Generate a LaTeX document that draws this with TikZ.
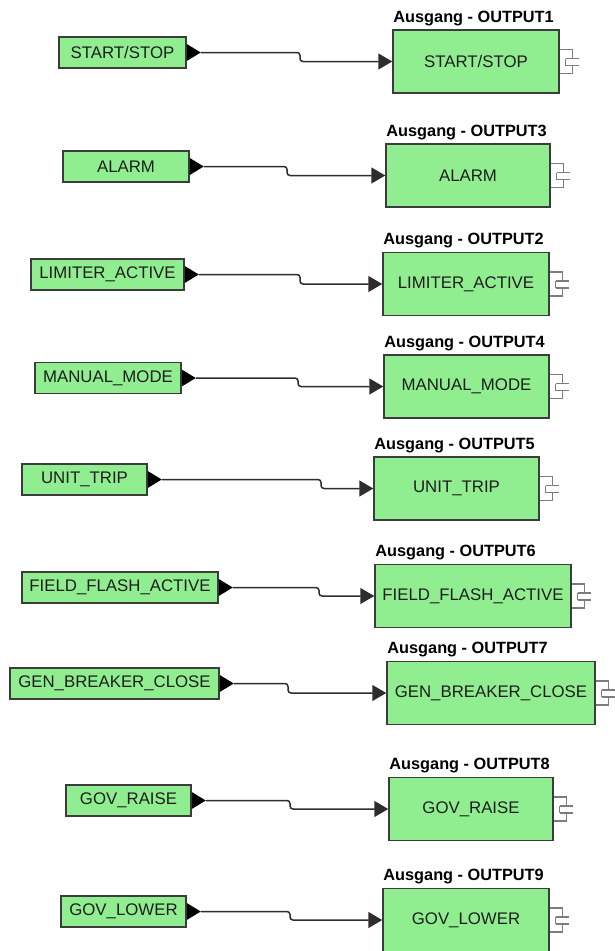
\documentclass[tikz,border=0pt]{standalone}
\usepackage{fontspec}
\setmainfont{Liberation Sans}
\usetikzlibrary{arrows.meta,calc}
\definecolor{boxgreen}{RGB}{144,238,144}
\definecolor{boxline}{RGB}{60,60,60}
\definecolor{wirec}{RGB}{45,45,45}
\definecolor{plugc}{RGB}{125,125,125}
\definecolor{txt}{RGB}{30,30,30}
\tikzset{
  inbox/.style={draw=boxline, fill=boxgreen, line width=1.5pt, minimum height=31pt,
    inner sep=0pt, font=\fontsize{16.8}{18}\selectfont, text=txt},
  outbox/.style={draw=boxline, fill=boxgreen, line width=1.5pt, minimum height=63pt,
    inner sep=0pt, font=\fontsize{16.8}{18}\selectfont, text=txt},
  ttl/.style={anchor=base west, inner sep=0pt, font=\bfseries\fontsize{16.3}{18}\selectfont},
  wire/.style={draw=wirec, line width=1.5pt, rounded corners=3pt,
    -{Triangle[length=14pt,width=16pt]}},
  plugline/.style={draw=plugc, line width=1.3pt},
}
\newcommand\inport[2]{%
  \fill[black] ($(#1.east)+(0,-8.5)$) -- ($(#1.east)+(14,0)$) -- ($(#1.east)+(0,8.5)$) -- cycle;
  \coordinate (#2) at ($(#1.east)+(14,0)$);}
\newcommand\plugicon[1]{%
  \draw[plugline] ($(#1.east)+(0,-12)$) -- ++(13,0) -- ++(0,9);
  \draw[plugline] ($(#1.east)+(6,-3)$) -- ++(13,0);
  \draw[plugline] ($(#1.east)+(6,4)$) -- ++(13,0);
  \draw[plugline] ($(#1.east)+(6,-3)$) -- ++(0,7);
  \draw[plugline] ($(#1.east)+(13,4)$) -- ++(0,8) -- ++(-13,0);}
\begin{document}
\begin{tikzpicture}[x=1pt,y=-1pt]
\useasboundingbox[fill=white] (0,0) rectangle (615,951);
% Row 1
\node[inbox, minimum width=127pt] (in1) at (122.5,52.5) {START/STOP};
\node[outbox, minimum width=166pt] (out1) at (476,61.5) {START/STOP};
\node[ttl] (t1) at ($(out1.north west)+(1,-7)$) {Ausgang - OUTPUT1};
\inport{in1}{p1}\plugicon{out1}
\draw[wire] (p1) -- (300,52.5) |- (out1.west);
% Row 2
\node[inbox, minimum width=126pt] (in2) at (126,166.5) {ALARM};
\node[outbox, minimum width=164pt] (out2) at (468,175.5) {ALARM};
\node[ttl] (t2) at ($(out2.north west)+(1,-7)$) {Ausgang - OUTPUT3};
\inport{in2}{p2}\plugicon{out2}
\draw[wire] (p2) -- (287,166.5) |- (out2.west);
% Row 3
\node[inbox, minimum width=153pt] (in3) at (107.5,274.5) {LIMITER\_ACTIVE};
\node[outbox, minimum width=166pt] (out3) at (466,284) {LIMITER\_ACTIVE};
\node[ttl] (t3) at ($(out3.north west)+(1,-7)$) {Ausgang - OUTPUT2};
\inport{in3}{p3}\plugicon{out3}
\draw[wire] (p3) -- (300,274.5) |- (out3.west);
% Row 4
\node[inbox, minimum width=146pt] (in4) at (108,378) {MANUAL\_MODE};
\node[outbox, minimum width=165pt] (out4) at (466.5,386.5) {MANUAL\_MODE};
\node[ttl] (t4) at ($(out4.north west)+(1,-7)$) {Ausgang - OUTPUT4};
\inport{in4}{p4}\plugicon{out4}
\draw[wire] (p4) -- (298,378) |- (out4.west);
% Row 5
\node[inbox, minimum width=125pt] (in5) at (84.5,479.5) {UNIT\_TRIP};
\node[outbox, minimum width=165pt] (out5) at (456.5,488.5) {UNIT\_TRIP};
\node[ttl] (t5) at ($(out5.north west)+(1,-7)$) {Ausgang - OUTPUT5};
\inport{in5}{p5}\plugicon{out5}
\draw[wire] (p5) -- (321,479.5) |- (out5.west);
% Row 6
\node[inbox, minimum width=196pt] (in6) at (120,587.5) {FIELD\_FLASH\_ACTIVE};
\node[outbox, minimum width=196pt] (out6) at (473,596) {FIELD\_FLASH\_ACTIVE};
\node[ttl] (t6) at ($(out6.north west)+(1,-7)$) {Ausgang - OUTPUT6};
\inport{in6}{p6}\plugicon{out6}
\draw[wire] (p6) -- (319,587.5) |- (out6.west);
% Row 7
\node[inbox, minimum width=209pt] (in7) at (114.5,683.5) {GEN\_BREAKER\_CLOSE};
\node[outbox, minimum width=208pt] (out7) at (491,693) {GEN\_BREAKER\_CLOSE};
\node[ttl] (t7) at ($(out7.north west)+(1,-7)$) {Ausgang - OUTPUT7};
\inport{in7}{p7}\plugicon{out7}
\draw[wire] (p7) -- (288,683.5) |- (out7.west);
% Row 8
\node[inbox, minimum width=125pt] (in8) at (128.5,800.5) {GOV\_RAISE};
\node[outbox, minimum width=164pt] (out8) at (471,809) {GOV\_RAISE};
\node[ttl] (t8) at ($(out8.north west)+(1,-7)$) {Ausgang - OUTPUT8};
\inport{in8}{p8}\plugicon{out8}
\draw[wire] (p8) -- (290,800.5) |- (out8.west);
% Row 9
\node[inbox, minimum width=125pt] (in9) at (123.5,911.5) {GOV\_LOWER};
\node[outbox, minimum width=166pt] (out9) at (466,920) {GOV\_LOWER};
\node[ttl] (t9) at ($(out9.north west)+(1,-7)$) {Ausgang - OUTPUT9};
\inport{in9}{p9}\plugicon{out9}
\draw[wire] (p9) -- (290,911.5) |- (out9.west);
\end{tikzpicture}
\end{document}
